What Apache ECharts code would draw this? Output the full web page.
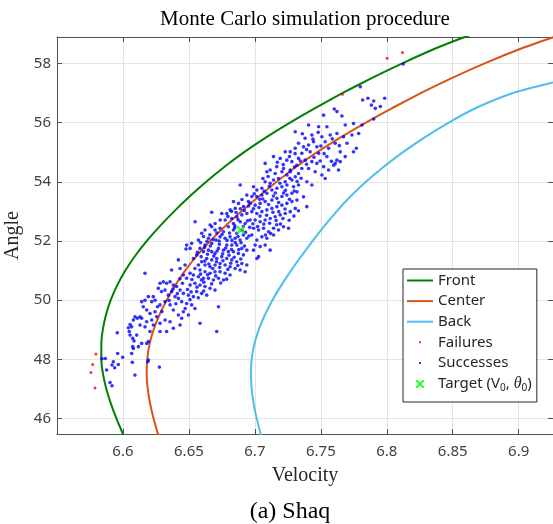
<!DOCTYPE html>
<html><head><meta charset="utf-8">
<script src="https://cdn.jsdelivr.net/npm/echarts@6/dist/echarts.min.js"></script>
<style>html,body{margin:0;padding:0;background:#fff}#c{width:553px;height:524px}</style>
</head><body><div id="c"></div>
<script>
const xTicks = [6.6, 6.65, 6.7, 6.75, 6.8, 6.85, 6.9];
const yTicks = [46, 48, 50, 52, 54, 56, 58];
const xRange = [6.55, 6.926];
const yRange = [45.48, 58.89];

const frontCurve = [[6.6010,45.38],[6.6000,45.48],[6.5951,46.0],[6.5909,46.5],[6.5874,47.0],[6.5849,47.5],[6.5836,48.0],[6.5836,48.5],[6.5847,49.0],[6.5871,49.5],[6.5907,50.0],[6.5956,50.5],[6.6018,51.0],[6.6093,51.5],[6.6181,52.0],[6.6280,52.5],[6.6388,53.0],[6.6505,53.5],[6.6631,54.0],[6.6768,54.5],[6.6919,55.0],[6.7085,55.5],[6.7266,56.0],[6.7460,56.5],[6.7666,57.0],[6.7885,57.5],[6.8118,58.0],[6.8368,58.5],[6.8590,58.89],[6.8650,58.98]];
const centerCurve = [[6.6272,45.38],[6.6265,45.48],[6.6232,46.0],[6.6206,46.5],[6.6188,47.0],[6.6180,47.5],[6.6184,48.0],[6.6201,48.5],[6.6232,49.0],[6.6276,49.5],[6.6331,50.0],[6.6396,50.5],[6.6471,51.0],[6.6559,51.5],[6.6661,52.0],[6.6775,52.5],[6.6899,53.0],[6.7029,53.5],[6.7165,54.0],[6.7311,54.5],[6.7472,55.0],[6.7650,55.5],[6.7841,56.0],[6.8045,56.5],[6.8261,57.0],[6.8492,57.5],[6.8742,58.0],[6.9020,58.5],[6.9268,58.89],[6.9330,58.98]];
const backCurve = [[6.7049,45.40],[6.7042,45.51],[6.7014,46.0],[6.6991,46.5],[6.6976,47.0],[6.6970,47.5],[6.6976,48.0],[6.6995,48.5],[6.7029,49.0],[6.7076,49.5],[6.7133,50.0],[6.7200,50.5],[6.7274,51.0],[6.7354,51.5],[6.7438,52.0],[6.7526,52.5],[6.7620,53.0],[6.7724,53.5],[6.7842,54.0],[6.7975,54.5],[6.8123,55.0],[6.8287,55.5],[6.8470,56.0],[6.8679,56.5],[6.8957,57.0],[6.9239,57.33],[6.9300,57.39]];

const failures = [[6.5795,48.18],[6.5770,47.83],[6.5757,47.56],[6.5788,47.03],[6.7664,56.96],[6.8003,58.17],[6.8119,58.37]];

const successes = [
[6.6129,49.44],[6.6109,49.39],[6.6091,49.44],[6.6079,49.33],[6.6054,49.18],[6.6066,49.10],[6.6041,49.07],[6.6048,48.94],[6.6074,48.71],[6.6054,48.82],[6.6084,48.62],[6.6074,48.43],[6.6079,48.37],[6.6066,48.20],[6.6071,47.90],[6.6091,47.47],[6.6117,48.43],[6.6142,48.54],[6.6180,48.54],[6.6193,48.60],[6.6193,47.98],[6.6188,47.92],[6.6276,47.74],[6.5957,48.90],[6.5960,48.20],[6.5998,48.07],[6.5927,47.92],[6.5917,47.81],[6.5937,47.72],[6.5876,47.64],[6.5866,48.03],[6.5841,48.02],[6.5965,47.83],[6.5902,47.22],[6.5917,47.11],[6.6129,49.16],[6.6104,48.82],
[6.6673,52.48],[6.6698,52.37],[6.6736,52.43],[6.6762,52.31],[6.6799,52.48],[6.6837,52.37],[6.6863,52.26],[6.6913,52.20],[6.6939,52.09],[6.6888,52.03],[6.6850,52.09],[6.6812,52.14],[6.6774,52.09],[6.6736,52.14],[6.6706,52.03],[6.6673,51.92],[6.6648,52.09],[6.6622,51.86],[6.6597,52.26],[6.6572,52.03],[6.6622,52.37],
[6.6787,51.86],[6.6825,51.86],[6.6863,51.86],[6.6901,51.75],[6.6939,51.69],[6.6913,51.53],[6.6875,51.58],[6.6837,51.64],[6.6799,51.64],[6.6762,51.69],[6.6724,51.75],[6.6698,51.58],[6.6673,51.64],[6.6648,51.69],[6.6610,51.64],[6.6584,51.75],[6.6559,51.53],[6.6534,51.41],[6.6509,51.75],[6.6483,51.86],[6.6478,51.73],[6.6521,51.92],
[6.6635,51.41],[6.6673,51.36],[6.6711,51.41],[6.6749,51.47],[6.6787,51.41],[6.6825,51.36],[6.6863,51.30],[6.6901,51.24],[6.6939,51.19],[6.6926,50.96],[6.6888,51.02],[6.6850,51.07],[6.6812,51.13],[6.6774,51.19],[6.6736,51.24],[6.6698,51.19],[6.6660,51.13],[6.6622,51.19],[6.6597,51.30],[6.6572,51.19],[6.6546,51.07],[6.6584,51.02],[6.6622,50.96],[6.6660,50.91],[6.6698,50.96],[6.6736,50.96],[6.6774,50.91],[6.6812,50.85],[6.6762,50.68],[6.6724,50.74],[6.6686,50.68],[6.6648,50.74],[6.6610,50.74],[6.6572,50.79],[6.6534,50.85],[6.6509,50.91],[6.6483,50.74],[6.6458,50.85],[6.6433,51.07],[6.6420,51.36],[6.6471,51.19],
[6.6509,50.51],[6.6546,50.57],[6.6584,50.51],[6.6622,50.46],[6.6660,50.40],[6.6698,50.34],[6.6635,50.17],[6.6597,50.23],[6.6559,50.29],[6.6534,50.12],[6.6496,50.17],[6.6458,50.23],[6.6433,50.34],[6.6407,50.46],[6.6382,50.51],[6.6357,50.62],[6.6331,50.57],[6.6306,50.62],[6.6281,50.57],[6.6268,50.40],[6.6293,50.29],[6.6319,50.34],[6.6344,50.17],[6.6369,50.29],[6.6395,50.12],[6.6420,50.06],[6.6445,49.95],[6.6483,49.89],[6.6521,49.84],[6.6546,49.72],[6.6458,49.61],[6.6420,49.50],[6.6382,49.67],[6.6357,49.84],[6.6319,49.95],[6.6281,49.84],[6.6243,50.00],[6.6230,50.12],[6.6218,49.95],[6.6192,50.12],[6.6167,50.00],[6.6142,49.95],[6.6154,49.78],[6.6180,49.67],[6.6205,49.55],[6.6243,49.61],[6.6256,49.44],[6.6218,49.33],[6.6180,49.27],[6.6142,49.39],
[6.6167,49.10],[6.6230,49.16],[6.6281,49.22],[6.6319,49.33],[6.6357,49.27],[6.6382,49.05],[6.6331,48.94],[6.6433,49.16],[6.6445,49.39],[6.6496,49.50],[6.6584,49.22],[6.6711,48.94],[6.6724,49.78],[6.6167,50.91],[6.6369,51.02],[6.6281,48.94],[6.6205,48.94],
[6.7091,54.34],[6.7154,54.28],[6.7205,54.34],[6.7243,54.23],[6.7268,54.34],[6.7306,54.17],[6.7331,54.28],[6.7281,54.06],[6.7230,54.00],[6.7179,54.11],[6.7142,54.06],[6.7116,53.95],[6.7078,54.00],[6.7053,53.78],[6.7015,53.72],[6.6990,53.83],[6.6889,53.89],[6.6939,53.55],[6.6977,53.50],[6.7015,53.50],[6.7053,53.55],[6.7091,53.61],[6.7129,53.72],[6.7167,53.78],[6.7205,53.83],[6.7243,53.89],[6.7293,53.83],[6.7331,53.89],[6.7319,53.66],[6.7281,53.61],[6.7243,53.55],[6.7205,53.50],[6.7167,53.44],[6.7129,53.38],[6.7078,53.33],[6.7040,53.27],[6.7002,53.21],[6.6964,53.27],[6.6914,53.16],[6.6876,53.27],[6.6838,53.33],[6.6851,53.10],[6.6813,53.05],[6.6787,52.93],[6.6749,52.93],[6.6673,52.97],[6.6737,52.71],[6.6775,52.71],[6.6825,52.76],[6.6863,52.82],[6.6901,52.88],[6.6939,52.93],[6.6977,52.99],[6.7015,52.93],[6.7053,52.99],[6.7091,53.05],[6.7129,53.10],[6.7167,53.16],[6.7205,53.21],[6.7243,53.27],[6.7281,53.33],[6.7319,53.38],[6.7306,53.10],[6.7268,52.99],[6.7230,52.93],[6.7192,52.88],[6.7154,52.82],[6.7116,52.76],[6.7078,52.71],[6.7040,52.65],[6.7002,52.71],[6.6964,52.71],[6.6926,52.59],[6.6889,52.65],[6.6838,52.59],[6.6699,52.59],[6.6661,52.54],[6.6547,52.65],
[6.6990,52.43],[6.7028,52.37],[6.7066,52.43],[6.7104,52.31],[6.7142,52.43],[6.7179,52.37],[6.7217,52.48],[6.7255,52.43],[6.7142,52.20],[6.7091,52.09],[6.7053,52.14],[6.7015,52.03],[6.7002,51.86],[6.7040,51.81],[6.7078,51.86],[6.7116,51.69],[6.7028,51.47],[6.7015,51.41],[6.6977,52.20],[6.6990,51.69],
[6.7521,56.25],[6.7622,56.37],[6.7660,56.22],[6.7407,55.92],[6.7483,55.86],[6.7546,55.86],[6.7685,55.92],[6.7748,55.97],[6.7306,55.69],[6.7432,55.58],[6.7508,55.52],[6.7571,55.58],[6.7622,55.63],[6.7672,55.52],[6.7736,55.58],[6.7381,55.47],[6.7445,55.35],[6.7533,55.35],[6.7609,55.30],[6.7698,55.30],[6.7748,55.01],[6.7331,55.30],[6.7369,55.18],[6.7407,55.24],[6.7470,55.18],[6.7559,55.13],[6.7647,55.01],[6.7230,55.01],[6.7268,55.01],[6.7306,55.13],[6.7356,54.96],[6.7419,55.01],[6.7483,54.96],[6.7546,54.85],[6.7622,54.73],[6.7685,54.85],[6.7141,54.85],[6.7192,54.79],[6.7242,54.73],[6.7280,54.68],[6.7331,54.79],[6.7381,54.73],[6.7432,54.68],[6.7470,54.62],[6.7521,54.51],[6.7559,54.40],[6.7597,54.56],[6.7634,54.40],[6.7078,54.62],[6.7116,54.40],[6.7166,54.51],[6.7217,54.45],[6.7268,54.40],[6.7318,54.56],[6.7356,54.45],[6.7407,54.45],[6.7457,54.34],[6.7508,54.23],[6.7533,54.11],[6.7394,54.00],[6.7432,53.89],[6.7609,54.62],[6.7647,54.68],[6.7369,53.49],[6.7394,53.16],
[6.7799,57.21],[6.7817,56.76],[6.7857,56.82],[6.7901,56.73],[6.7883,56.59],[6.7913,56.48],[6.7951,56.54],[6.7984,56.82],[6.7602,56.46],[6.7901,56.12],[6.7812,55.92],[6.7787,55.63],[6.7769,55.13],[6.8125,57.98],
[6.6565,51.62],[6.6593,51.47],[6.6618,51.78],[6.6641,51.55],[6.6662,51.83],[6.6689,51.49],[6.6714,51.66],[6.6731,51.89],[6.6756,51.57],[6.6779,51.76],[6.6804,51.52],[6.6823,51.71],[6.6851,51.95],[6.6878,51.71],[6.6895,51.94],[6.6921,51.83],[6.6588,51.95],[6.6611,52.15],[6.6637,51.99],[6.6659,52.21],[6.6684,52.05],[6.6712,52.27],[6.6729,52.00],[6.6751,52.22],[6.6789,52.02],[6.6808,52.27],[6.6826,52.02],[6.6847,52.44],[6.6872,52.15],[6.6902,52.36],[6.6929,52.29],[6.6955,52.17],[6.6621,51.32],[6.6651,51.22],[6.6681,51.07],[6.6709,51.30],[6.6733,51.11],[6.6758,51.33],[6.6795,51.04],[6.6817,51.25],[6.6843,51.45],[6.6871,51.17],[6.6893,51.39],[6.6588,50.88],[6.6613,50.61],[6.6641,50.86],[6.6672,50.55],[6.6703,50.82],[6.6741,50.58],[6.6786,50.71],[6.6561,50.44],[6.6595,50.68],[6.6523,50.70],[6.6489,50.36],[6.6517,50.28],[6.6412,50.22],[6.6451,50.57],[6.6432,50.72],[6.6379,50.38],[6.6401,49.88],[6.6472,49.72],[6.6508,50.02],[6.6571,50.08],[6.6612,50.31],[6.6350,49.99],[6.6296,49.62],[6.6262,49.78],
[6.6848,52.51],[6.6872,52.72],[6.6913,52.49],[6.6944,52.68],[6.6961,52.46],[6.6985,52.58],[6.7021,52.49],[6.7039,52.84],[6.7068,52.57],[6.7089,52.87],[6.7112,52.60],[6.7137,52.97],[6.7161,52.69],[6.7181,52.99],[6.7213,52.76],[6.7229,53.08],[6.6795,52.83],[6.6823,53.00],[6.6858,52.96],[6.6890,53.09],[6.6920,53.03],[6.6952,53.18],[6.6989,53.09],[6.7031,53.13],[6.7060,53.42],[6.7104,53.23],[6.7141,53.52],[6.7180,53.30],[6.7218,53.62],[6.7262,53.41],[6.7298,53.69],[6.6902,53.40],[6.6951,53.33],[6.6995,53.59],[6.7036,53.41],[6.7071,53.68],[6.7110,53.85],[6.7155,53.62],[6.7190,53.95],[6.7231,53.71],[6.7265,54.12],[6.7320,54.01],[6.7350,54.12],[6.7101,54.18],[6.7061,54.11],[6.7260,52.70],[6.7296,52.84],[6.7330,53.02],[6.7194,52.57],[6.7120,52.25],[6.7080,52.20],[6.7165,52.55],
[6.7170,54.66],[6.7215,54.58],[6.7262,54.85],[6.7300,54.50],[6.7345,54.70],[6.7392,54.59],[6.7448,54.83],[6.7495,54.70],[6.7525,54.95],[6.7580,54.69],[6.7305,54.95],[6.7392,55.09],[6.7440,55.44],[6.7500,55.21],[6.7587,55.45],[6.7640,55.22],[6.7360,55.62],[6.7480,55.67]
];

const target = [[6.6893, 52.37]];

const titleText = 'Monte Carlo simulation procedure';
const xName = 'Velocity';
const yName = 'Angle';
const caption = '(a) Shaq';
const seriesNames = ['Front', 'Center', 'Back', 'Failures', 'Successes', 'Target'];

const serif = '"Liberation Serif", "Times New Roman", serif';
const sans = '"Noto Sans", sans-serif';
const frameColor = '#505050';
const gridColor = '#e4e4e4';

const fmtTick = v => String(parseFloat(Number(v).toFixed(2)));
const xMark = 'path://M0,0L1.6,0L4,2.4L6.4,0L8,0L8,1.6L5.6,4L8,6.4L8,8L6.4,8L4,5.6L1.6,8L0,8L0,6.4L2.4,4L0,1.6Z';
const lineIcon = 'path://M0,0M26,14M0,6L26,6L26,8L0,8Z';
const dotIcon = 'path://M0,0M26,14M12,6L14,6L14,8L12,8Z';
const xIcon = 'path://M0,0M26,14M9,3L10.6,3L13,5.4L15.4,3L17,3L17,4.6L14.6,7L17,9.4L17,11L15.4,11L13,8.6L10.6,11L9,11L9,9.4L11.4,7L9,4.6Z';

const chart = echarts.init(document.getElementById('c'), null, {renderer: 'canvas'});

function baseX(pos, show) {
  return {
    type: 'value', position: pos, min: xRange[0], max: xRange[1],
    axisLine: {show: true, onZero: false, lineStyle: {color: frameColor, width: 1}},
    axisTick: {show: true, inside: true, length: 5, customValues: xTicks, lineStyle: {color: frameColor}},
    axisLabel: {show: show, customValues: xTicks, formatter: fmtTick, color: '#404040', fontFamily: sans, fontSize: 15, margin: 10},
    splitLine: {show: show, lineStyle: {color: gridColor, width: 1}}
  };
}
function baseY(pos, show) {
  return {
    type: 'value', position: pos, min: yRange[0], max: yRange[1],
    axisLine: {show: true, onZero: false, lineStyle: {color: frameColor, width: 1}},
    axisTick: {show: true, inside: true, length: 5, customValues: yTicks, lineStyle: {color: frameColor}},
    axisLabel: {show: show, customValues: yTicks, formatter: fmtTick, color: '#404040', fontFamily: sans, fontSize: 15, margin: 6},
    splitLine: {show: show, lineStyle: {color: gridColor, width: 1}}
  };
}

const x0 = baseX('bottom', true);
x0.name = xName; x0.nameLocation = 'middle'; x0.nameGap = 32;
x0.nameTextStyle = {fontFamily: serif, fontSize: 20, color: '#262626'};
const y0 = baseY('left', true);
y0.name = yName; y0.nameLocation = 'middle'; y0.nameGap = 30;
y0.nameTextStyle = {fontFamily: serif, fontSize: 20, color: '#262626'};

const option = {
  animation: false,
  backgroundColor: '#ffffff',
  grid: {left: 57, top: 37, right: 0, bottom: 90, containLabel: false, outerBoundsMode: 'none'},
  xAxis: [x0, baseX('top', false)],
  yAxis: [y0, baseY('right', false)],
  legend: {
    orient: 'vertical', left: 403, top: 269,
    padding: [4, 5, 9, 4], itemGap: 5.6, itemWidth: 26, itemHeight: 14,
    borderColor: '#262626', borderWidth: 1, backgroundColor: '#ffffff',
    textStyle: {fontFamily: sans, fontSize: 15, color: '#262626',
      rich: {
        n: {fontFamily: sans, fontSize: 15, color: '#262626', lineHeight: 18},
        s: {fontFamily: sans, fontSize: 10, color: '#262626', verticalAlign: 'bottom', lineHeight: 6},
        t: {fontFamily: serif, fontStyle: 'italic', fontSize: 16, color: '#262626', lineHeight: 18}
      }},
    formatter: function (name) {
      if (name === 'Target') return '{n|Target (V}{s|0}{n|, }{t|θ}{s|0}{n|)}';
      return name;
    },
    data: [
      {name: seriesNames[0], icon: lineIcon}, {name: seriesNames[1], icon: lineIcon}, {name: seriesNames[2], icon: lineIcon},
      {name: seriesNames[3], icon: dotIcon}, {name: seriesNames[4], icon: dotIcon},
      {name: seriesNames[5], icon: xIcon}
    ]
  },
  graphic: [
    {type: 'text', x: 305, y: 19.5, silent: true, style: {text: titleText, font: '21px ' + serif, fill: '#000', align: 'center', verticalAlign: 'middle'}},
    {type: 'text', x: 290, y: 512, silent: true, style: {text: caption, font: '24px ' + serif, fill: '#000', align: 'center', verticalAlign: 'middle'}}
  ],
  series: [
    {name: seriesNames[0], type: 'line', data: frontCurve, symbol: 'none', smooth: 0.2, color: '#008000', lineStyle: {color: '#008000', width: 2}, z: 2},
    {name: seriesNames[1], type: 'line', data: centerCurve, symbol: 'none', smooth: 0.2, color: '#D95319', lineStyle: {color: '#D95319', width: 2}, z: 2},
    {name: seriesNames[2], type: 'line', data: backCurve, symbol: 'none', smooth: 0.2, color: '#4DBEEE', lineStyle: {color: '#4DBEEE', width: 2}, z: 2},
    {name: seriesNames[3], type: 'scatter', data: failures, symbol: 'circle', symbolSize: 3, color: '#ff0000', itemStyle: {color: '#ff0000'}, z: 3},
    {name: seriesNames[4], type: 'scatter', data: successes, symbol: 'circle', symbolSize: 3.6, color: '#0000ff', itemStyle: {color: '#0000ff'}, z: 3},
    {name: seriesNames[5], type: 'scatter', data: target, symbol: xMark, symbolSize: 8, color: '#00ff00', itemStyle: {color: '#00ff00'}, z: 4}
  ]
};
chart.setOption(option);
</script></body></html>
